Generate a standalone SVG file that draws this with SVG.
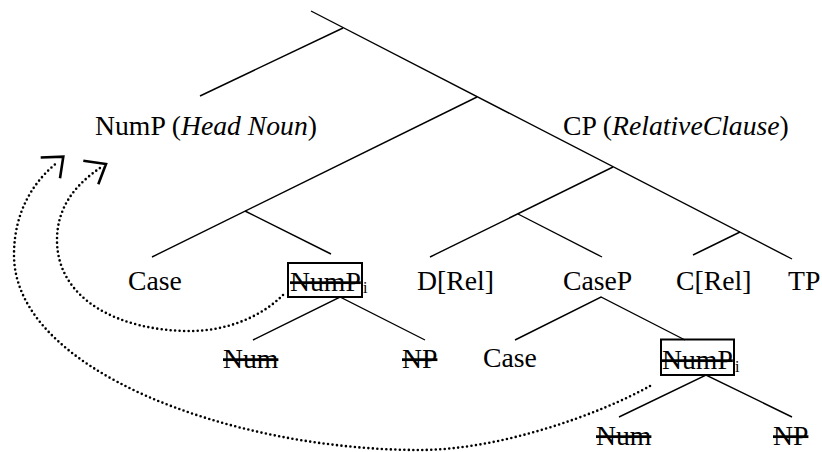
<svg xmlns="http://www.w3.org/2000/svg" width="822" height="452" viewBox="0 0 822 452">
<style>
text{font-family:"Liberation Serif","Times New Roman",Times,serif;font-size:27.7px;fill:#000}
.it{font-style:italic}
.st{text-decoration:line-through}
.sub{font-size:16px}
.ln{stroke:#000;stroke-width:1.4;fill:none}
.box{stroke:#000;stroke-width:2;fill:none}
.dot{stroke:#000;stroke-width:2.6;fill:none;stroke-linecap:round;stroke-dasharray:0 4.5}
.ah{stroke:#000;stroke-width:2.6;fill:none;stroke-linejoin:miter}
</style>
<rect width="822" height="452" fill="#fff"/>
<g id="connectors">
<line class="ln" x1="311" y1="11" x2="792" y2="259"/>
<line class="ln" x1="343" y1="28" x2="200" y2="96"/>
<line class="ln" x1="477" y1="97" x2="152" y2="257"/>
<line class="ln" x1="245" y1="211" x2="331" y2="254"/>
<line class="ln" x1="613" y1="167" x2="430" y2="257"/>
<line class="ln" x1="518" y1="214" x2="602" y2="257"/>
<line class="ln" x1="740" y1="232" x2="693" y2="255"/>
<polyline class="ln" points="515,340 601,297 685,340"/>
<polyline class="ln" points="253,340 340,297 425,340"/>
<polyline class="ln" points="619,417 706,375 792,417"/>
<path class="dot" d="M283,295 C260,318 225,331 190,331 C120,331 57,300 57,240 C57,205 78,183 100,168"/>
<path class="dot" d="M650,386 C600,414 500,450 420,450 C230,450 14,370 14,255 C14,210 35,180 58,162"/>
<polyline class="ah" points="83.3,160.7 106,164 98.3,184.3"/>
<polyline class="ah" points="40.7,157.5 63.3,156.7 60,178.3"/>
</g>
<g id="nump-head"><text x="95" y="135">NumP (<tspan class="it">Head Noun</tspan>)</text></g>
<g id="cp-rel"><text x="563" y="135">CP (<tspan class="it">RelativeClause</tspan>)</text></g>
<g id="case1"><text x="128" y="290">Case</text></g>
<g id="nump1"><rect class="box" x="288" y="263" width="74" height="34"/><text class="st" x="290" y="291">NumP</text><text class="sub" x="363" y="293">i</text></g>
<g id="drel"><text x="417" y="290">D[Rel]</text></g>
<g id="casep"><text x="563" y="290">CaseP</text></g>
<g id="crel"><text x="676" y="290">C[Rel]</text></g>
<g id="tp"><text x="788" y="290">TP</text></g>
<g id="num1"><text class="st" x="223" y="368">Num</text></g>
<g id="np1"><text class="st" x="402" y="368">NP</text></g>
<g id="case2"><text x="483" y="367">Case</text></g>
<g id="nump2"><rect class="box" x="661" y="339.5" width="73" height="35.5"/><text class="st" x="662" y="369">NumP</text><text class="sub" x="735" y="372">i</text></g>
<g id="num2"><text class="st" x="596" y="445">Num</text></g>
<g id="np2"><text class="st" x="773" y="445">NP</text></g>
</svg>
